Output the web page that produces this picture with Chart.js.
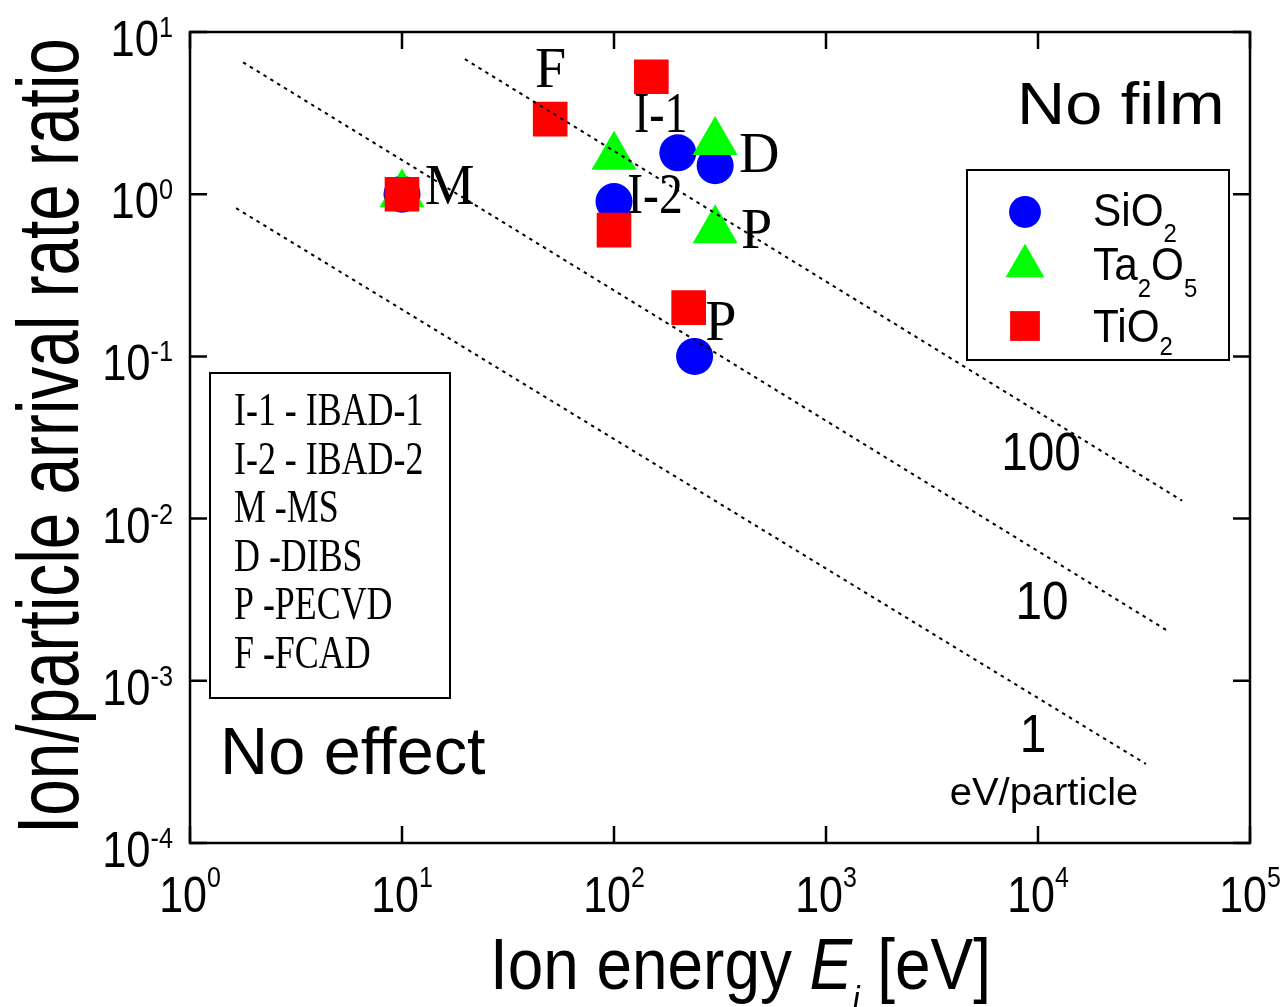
<!DOCTYPE html>
<html>
<head>
<meta charset="utf-8">
<script src="https://cdn.jsdelivr.net/npm/chart.js@4.4.0/dist/chart.umd.min.js"></script>
<style>
  html, body { margin: 0; padding: 0; background: #fff; }
  #wrap { width: 1288px; height: 1007px; }
</style>
</head>
<body>
<div id="wrap"><canvas id="ionChart" width="1288" height="1007"></canvas></div>
<script>
// ion energy [eV] and ion/particle arrival rate ratio for each film
const sio2Energy = [10, 200, 300, 100, 240];
const sio2Ratio = [1.0, 1.8, 1.5, 0.9, 0.1];
const ta2o5Energy = [10, 100, 300, 300];
const ta2o5Ratio = [1.0, 1.7, 2.1, 0.6];
const tio2Energy = [10, 50, 150, 100, 225];
const tio2Ratio = [1.0, 2.9, 5.3, 0.6, 0.2];

// dotted guides of constant energy per deposited particle (end points)
const guideNames = ['100', '10', '1'];
const guideEnergy = [[19.8, 47800], [1.78, 40200], [1.65, 32300]];
const guideRatio = [[6.8, 0.0129], [6.5, 0.00206], [0.82, 0.000307]];

// deposition method tags written next to the points
const tagText = ['F', 'I-1', 'D', 'M', 'I-2', 'P', 'P'];
const tagEnergy = [43.3, 127, 397, 13.1, 118, 406, 275];
const tagRatio = [4.57, 2.41, 1.37, 0.867, 0.763, 0.464, 0.126];

const methodKey = ['I-1 - IBAD-1', 'I-2 - IBAD-2', 'M -MS', 'D -DIBS', 'P -PECVD', 'F -FCAD'];

// axis decades (exponents)
const xExponents = [0, 1, 2, 3, 4, 5];
const yExponents = [1, 0, -1, -2, -3, -4];

const SANS = '"Liberation Sans", Arial, Helvetica, sans-serif';
const SERIF = '"Liberation Serif", "Times New Roman", Times, serif';

function toPoints(xs, ys) {
    return xs.map((x, i) => ({ x: x, y: ys[i] }));
}

// draw a run of [text, font, dy] pieces squeezed horizontally by sx
function drawPieces(ctx, pieces, x, y, sx, align) {
    let total = 0;
    pieces.forEach(p => { ctx.font = p[1]; total += ctx.measureText(p[0]).width; });
    let x0 = x;
    if (align === 'center') x0 = x - total * sx / 2;
    else if (align === 'right') x0 = x - total * sx;
    ctx.save();
    ctx.translate(x0, y);
    ctx.scale(sx, 1);
    ctx.textAlign = 'left';
    ctx.textBaseline = 'alphabetic';
    let cx = 0;
    pieces.forEach(p => {
        ctx.font = p[1];
        ctx.fillText(p[0], cx, p[2] || 0);
        cx += ctx.measureText(p[0]).width;
    });
    ctx.restore();
}

const seriesStyle = [
    { label: 'SiO2', color: '#0000ff', pointStyle: 'circle', radius: 18.5 },
    { label: 'Ta2O5', color: '#00ff00', pointStyle: 'triangle', radius: 26 },
    { label: 'TiO2', color: '#ff0000', pointStyle: 'rect', radius: 24.5 }
];

const decorations = {
    id: 'decorations',
    afterDraw(chart) {
        const ctx = chart.ctx;
        const area = chart.chartArea;
        const xs = chart.scales.x;
        const ys = chart.scales.y;
        ctx.save();
        ctx.fillStyle = '#000';
        ctx.strokeStyle = '#000';

        // frame
        ctx.lineWidth = 2.5;
        ctx.strokeRect(area.left, area.top, area.right - area.left, area.bottom - area.top);

        // inward ticks on all four sides
        const tickLen = 17;
        ctx.beginPath();
        xExponents.forEach(e => {
            const px = xs.getPixelForValue(Math.pow(10, e));
            ctx.moveTo(px, area.bottom); ctx.lineTo(px, area.bottom - tickLen);
            ctx.moveTo(px, area.top); ctx.lineTo(px, area.top + tickLen);
        });
        yExponents.forEach(e => {
            const py = ys.getPixelForValue(Math.pow(10, e));
            ctx.moveTo(area.left, py); ctx.lineTo(area.left + tickLen, py);
            ctx.moveTo(area.right, py); ctx.lineTo(area.right - tickLen, py);
        });
        ctx.stroke();

        // tick labels as 10 with a raised exponent
        xExponents.forEach(e => {
            const px = xs.getPixelForValue(Math.pow(10, e));
            drawPieces(ctx, [['10', '50px ' + SANS, 0], [String(e), '29px ' + SANS, -25]],
                px, area.bottom + 69, 0.86, 'center');
        });
        yExponents.forEach(e => {
            const py = ys.getPixelForValue(Math.pow(10, e));
            drawPieces(ctx, [['10', '50px ' + SANS, 0], [String(e), '29px ' + SANS, -19]],
                area.left - 17, py + 24, 0.87, 'right');
        });

        // axis titles
        drawPieces(ctx, [
            ['Ion energy ', '73px ' + SANS, 0],
            ['E', 'italic 73px ' + SANS, 0],
            ['i', 'italic 38px ' + SANS, 24],
            [' [eV]', '73px ' + SANS, 0]
        ], 490, 989, 0.875, 'left');

        ctx.save();
        ctx.translate(78, 834);
        ctx.rotate(-Math.PI / 2);
        drawPieces(ctx, [['Ion/particle arrival rate ratio', '87px ' + SANS, 0]], 0, 0, 0.755, 'left');
        ctx.restore();

        // region captions
        drawPieces(ctx, [['No film', '59px ' + SANS, 0]], 1017, 124, 1.13, 'left');
        drawPieces(ctx, [['No effect', '66px ' + SANS, 0]], 220, 774, 1.01, 'left');

        // guide captions
        const guideCaption = [[1041, 470], [1042, 619], [1033, 752]];
        guideNames.forEach((t, i) => {
            drawPieces(ctx, [[t, '53px ' + SANS, 0]], guideCaption[i][0], guideCaption[i][1], 0.9, 'center');
        });
        drawPieces(ctx, [['eV/particle', '38px ' + SANS, 0]], 1044, 805, 1.05, 'center');

        // method tags beside the points
        const tagSqueeze = { 'I-1': 0.82, 'I-2': 0.85 };
        tagText.forEach((t, i) => {
            const px = xs.getPixelForValue(tagEnergy[i]);
            const py = ys.getPixelForValue(tagRatio[i]);
            drawPieces(ctx, [[t, '56px ' + SERIF, 0]], px - 2, py, tagSqueeze[t] || 1, 'left');
        });

        // method key box
        ctx.lineWidth = 2;
        ctx.fillStyle = '#fff';
        ctx.fillRect(210, 373, 240, 325);
        ctx.strokeRect(210, 373, 240, 325);
        ctx.fillStyle = '#000';
        methodKey.forEach((t, i) => {
            drawPieces(ctx, [[t, '46px ' + SERIF, 0]], 234, 425 + i * 48.5, 0.78, 'left');
        });

        // material legend box
        ctx.fillStyle = '#fff';
        ctx.fillRect(967, 170, 262, 190);
        ctx.strokeRect(967, 170, 262, 190);
        const legendY = [212, 266, 326];
        seriesStyle.forEach((s, i) => {
            ctx.fillStyle = s.color;
            Chart.helpers.drawPoint(ctx, { pointStyle: s.pointStyle, radius: s.radius * 0.86, rotation: 0, borderWidth: 0 }, 1025, legendY[i]);
        });
        ctx.fillStyle = '#000';
        const big = '46px ' + SANS, small = '26px ' + SANS;
        drawPieces(ctx, [['SiO', big, 0], ['2', small, 16]], 1093, 226, 0.92, 'left');
        drawPieces(ctx, [['Ta', big, 0], ['2', small, 17], ['O', big, 0], ['5', small, 17]], 1093, 280, 0.92, 'left');
        drawPieces(ctx, [['TiO', big, 0], ['2', small, 13]], 1093, 342, 0.92, 'left');

        ctx.restore();
    }
};

const guideSets = guideNames.map((name, i) => ({
    type: 'line',
    label: name + ' eV/particle',
    data: toPoints(guideEnergy[i], guideRatio[i]),
    borderColor: '#000',
    borderWidth: 2,
    borderDash: [3.5, 4.5],
    pointRadius: 0,
    showLine: true,
    fill: false,
    order: 0
}));

const seriesData = [toPoints(sio2Energy, sio2Ratio), toPoints(ta2o5Energy, ta2o5Ratio), toPoints(tio2Energy, tio2Ratio)];
const pointSets = seriesStyle.map((s, i) => ({
    type: 'scatter',
    label: s.label,
    data: seriesData[i],
    pointStyle: s.pointStyle,
    pointRadius: s.radius,
    backgroundColor: s.color,
    borderWidth: 0,
    clip: false,
    order: 3 - i
}));

new Chart(document.getElementById('ionChart'), {
    type: 'scatter',
    data: { datasets: guideSets.concat(pointSets) },
    options: {
        responsive: false,
        devicePixelRatio: 1,
        animation: false,
        events: [],
        layout: { padding: { left: 190, top: 32, right: 38, bottom: 164 } },
        plugins: { legend: { display: false }, tooltip: { enabled: false } },
        scales: {
            x: { type: 'logarithmic', min: 1, max: 1e5, display: false },
            y: { type: 'logarithmic', min: 1e-4, max: 10, display: false }
        }
    },
    plugins: [decorations]
});
</script>
</body>
</html>
